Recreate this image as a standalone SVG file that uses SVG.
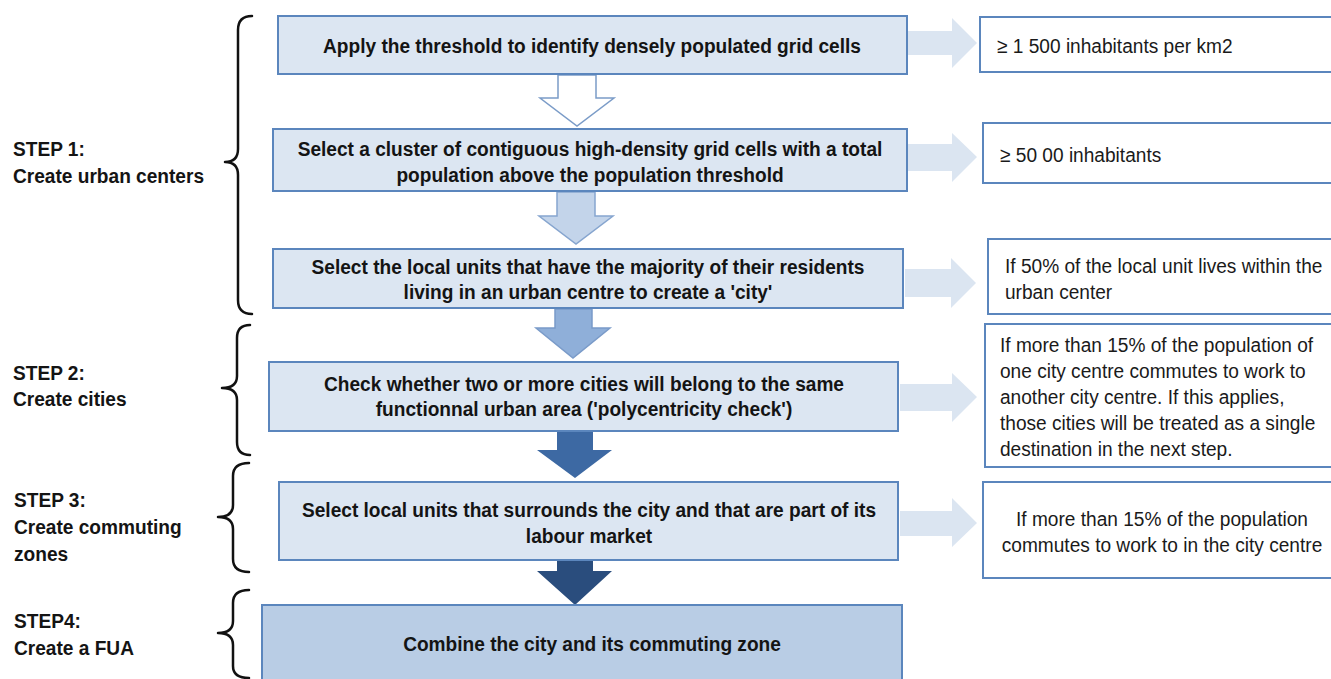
<svg xmlns="http://www.w3.org/2000/svg" width="1331" height="679" viewBox="0 0 1331 679">
<style>
  .bx{fill:#dce6f2;stroke:#5b86bd;stroke-width:2}
  .bx6{fill:#b9cde5;stroke:#5b86bd;stroke-width:2}
  .rb{fill:#ffffff;stroke:#5b86bd;stroke-width:2}
  .t{font-family:"Liberation Sans",Arial,sans-serif;font-size:21px;font-weight:bold;fill:#141414;text-anchor:middle}
  .l{font-family:"Liberation Sans",Arial,sans-serif;font-size:21px;font-weight:bold;fill:#141414}
  .r{font-family:"Liberation Sans",Arial,sans-serif;font-size:21px;fill:#1a1a1a}
  .rc{font-family:"Liberation Sans",Arial,sans-serif;font-size:21px;fill:#1a1a1a;text-anchor:middle}
  .br{fill:none;stroke:#111;stroke-width:2.5;stroke-linejoin:round;stroke-linecap:round}
  .ha{fill:#dbe5f1}
</style>
<rect width="1331" height="679" fill="#ffffff"/>

<g id="labels">
  <g id="step1"><text class="l" transform="translate(13 156) scale(0.91 1)"><tspan x="0" y="0">STEP 1:</tspan><tspan x="0" y="27">Create urban centers</tspan></text></g>
  <g id="step2"><text class="l" transform="translate(13 380) scale(0.91 1)"><tspan x="0" y="0">STEP 2:</tspan><tspan x="0" y="26">Create cities</tspan></text></g>
  <g id="step3"><text class="l" transform="translate(14 507) scale(0.91 1)"><tspan x="0" y="0">STEP 3:</tspan><tspan x="0" y="27">Create commuting</tspan><tspan x="0" y="54">zones</tspan></text></g>
  <g id="step4"><text class="l" transform="translate(14 628) scale(0.91 1)"><tspan x="0" y="0">STEP4:</tspan><tspan x="0" y="27">Create a FUA</tspan></text></g>
</g>

<g id="braces">
  <path class="br" d="M252,16 Q238,16 238,30 L238,149 Q238,162 225,162 Q238,162 238,175 L238,300 Q238,314 252,314"/>
  <path class="br" d="M250,325 Q237,325 237,338 L237,376 Q237,388 222,388 Q237,388 237,400 L237,442 Q237,455 250,455"/>
  <path class="br" d="M249,463 Q233,463 233,476 L233,505 Q233,517 218,517 Q233,517 233,529 L233,559 Q233,572 249,572"/>
  <path class="br" d="M249,590 Q233,590 233,603 L233,621 Q233,633 218,633 Q233,633 233,645 L233,666 Q233,678 249,678"/>
</g>

<g id="connectors">
  <polygon points="558,75 596,75 596,98 614,98 577,126 540,98 558,98" fill="#ffffff" stroke="#7b9cc8" stroke-width="1.5"/>
  <polygon points="557,192 595,192 595,216 613,216 576,244 539,216 557,216" fill="#c3d4ea" stroke="#86a5cf" stroke-width="1.5"/>
  <polygon points="555,309 592,309 592,328 610,328 573,358 536,328 555,328" fill="#8fafd9" stroke="#7a9bc9" stroke-width="1.5"/>
  <polygon points="557,432 593,432 593,450 612,450 575,478 537,450 557,450" fill="#3d69a3"/>
  <polygon points="557,561 593,561 593,571 612,571 575,605 537,571 557,571" fill="#2a4d7d"/>
  <polygon class="ha" points="908,31 952,31 952,18 977,43 952,68 952,55 908,55"/>
  <polygon class="ha" points="908,144 952,144 952,133 977,157 952,182 952,171 908,171"/>
  <polygon class="ha" points="905,269 951,269 951,258 976,283 951,308 951,297 905,297"/>
  <polygon class="ha" points="900,384 952,384 952,373 977,397 952,422 952,411 900,411"/>
  <polygon class="ha" points="900,511 952,511 952,498 977,523 952,547 952,536 900,536"/>
</g>

<g id="box1"><rect class="bx" x="278" y="16" width="629" height="58"/>
  <text class="t" transform="translate(592 53) scale(0.91 1)"><tspan x="0" y="0">Apply the threshold to identify densely populated grid cells</tspan></text></g>
<g id="box2"><rect class="bx" x="273" y="129" width="634" height="62"/>
  <text class="t" transform="translate(590 156) scale(0.91 1)"><tspan x="0" y="0">Select a cluster of contiguous high-density grid cells with a total</tspan><tspan x="0" y="26">population above the population threshold</tspan></text></g>
<g id="box3"><rect class="bx" x="273" y="249" width="630" height="59"/>
  <text class="t" transform="translate(588 274) scale(0.91 1)"><tspan x="0" y="0">Select the local units that have the majority of their residents</tspan><tspan x="0" y="25">living in an urban centre to create a 'city'</tspan></text></g>
<g id="box4"><rect class="bx" x="269" y="362" width="629" height="69"/>
  <text class="t" transform="translate(584 391) scale(0.91 1)"><tspan x="0" y="0">Check whether two or more cities will belong to the same</tspan><tspan x="0" y="25">functionnal urban area ('polycentricity check')</tspan></text></g>
<g id="box5"><rect class="bx" x="279" y="482" width="619" height="78"/>
  <text class="t" transform="translate(589 517) scale(0.91 1)"><tspan x="0" y="0">Select local units that surrounds the city and that are part of its</tspan><tspan x="0" y="26">labour market</tspan></text></g>
<g id="box6"><rect class="bx6" x="262" y="605" width="640" height="90"/>
  <text class="t" transform="translate(592 651) scale(0.91 1)"><tspan x="0" y="0">Combine the city and its commuting zone</tspan></text></g>

<g id="note1"><rect class="rb" x="980" y="17" width="360" height="55"/>
  <text class="r" transform="translate(997 53) scale(0.91 1)"><tspan x="0" y="0">≥ 1 500 inhabitants per km2</tspan></text></g>
<g id="note2"><rect class="rb" x="983" y="123" width="360" height="60"/>
  <text class="r" transform="translate(1000 162) scale(0.91 1)"><tspan x="0" y="0">≥ 50 00 inhabitants</tspan></text></g>
<g id="note3"><rect class="rb" x="988" y="239" width="360" height="75"/>
  <text class="r" transform="translate(1005 273) scale(0.91 1)"><tspan x="0" y="0">If 50% of the local unit lives within the</tspan><tspan x="0" y="26">urban center</tspan></text></g>
<g id="note4"><rect class="rb" x="985" y="324" width="360" height="143"/>
  <text class="r" transform="translate(1000 352) scale(0.91 1)"><tspan x="0" y="0">If more than 15% of the population of</tspan><tspan x="0" y="26">one city centre commutes to work to</tspan><tspan x="0" y="52">another city centre. If this applies,</tspan><tspan x="0" y="78">those cities will be treated as a single</tspan><tspan x="0" y="104">destination in the next step.</tspan></text></g>
<g id="note5"><rect class="rb" x="983" y="482" width="360" height="96"/>
  <text class="rc" transform="translate(1162 526) scale(0.91 1)"><tspan x="0" y="0">If more than 15% of the population</tspan><tspan x="0" y="26">commutes to work to in the city centre</tspan></text></g>
</svg>
